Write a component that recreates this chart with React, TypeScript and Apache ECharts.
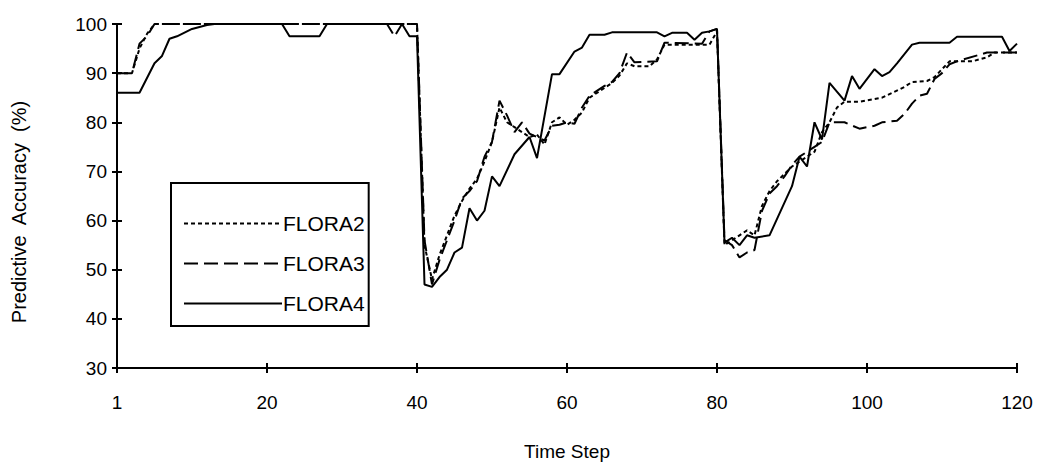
import React, { useEffect, useRef } from "react";
import * as echarts from "echarts";

// Time-step ticks (the first tick is labelled "1")
const xTicks = [0, 20, 40, 60, 80, 100, 120];
const seriesNames = ["FLORA2", "FLORA3", "FLORA4"];

// [time step, predictive accuracy %] at the vertices of each curve
const flora2: [number, number][] = [
  [0, 90], [2, 90], [3, 95], [4, 98], [5, 100], [40, 100], [41, 55], [42, 48], [43, 53],
  [44, 57], [45, 61], [46, 64], [47, 66.5], [48, 68.5], [49, 72], [50, 76], [51, 83],
  [52, 80], [53, 79], [54, 78], [55, 77], [56, 77.5], [57, 75.5], [58, 80], [59, 81],
  [60, 79.5], [61, 80.5], [62, 82], [63, 85], [65, 87], [66, 88], [67, 89.5], [68, 92],
  [69, 91.4], [71, 91.4], [72, 92.8], [73, 95.8], [79, 95.8], [80, 98.5], [81, 55],
  [82, 56], [83, 57], [84, 58], [85, 57], [86, 63], [87, 66], [88, 68], [90, 71],
  [92, 73], [93, 74], [94, 78], [95, 80], [96, 83], [97, 84.2], [99, 84.2], [102, 85],
  [105, 87.2], [106, 88.2], [108, 88.4], [109, 89.2], [111, 92.4], [114, 92.4],
  [116, 93.2], [117, 94.2], [120, 94.2],
];

const flora3: [number, number][] = [
  [0, 90], [2, 90], [3, 96], [4, 97.5], [5, 100], [36, 100], [37, 97.5], [38, 100],
  [40, 100], [41, 56], [42, 47], [43, 52], [44, 56], [45, 60], [46, 64.5], [47, 66],
  [48, 68], [49, 73], [50, 76], [51, 84.4], [52, 81.4], [53, 78], [54, 80], [55, 77.7],
  [57, 76.3], [58, 79.3], [59, 79.5], [60, 80], [61, 79.7], [62, 83], [63, 85.4],
  [65, 87.4], [66, 88.2], [67, 90], [68, 94.2], [69, 92.2], [72, 92.4], [73, 96.2],
  [78, 96], [79, 98.5], [80, 99], [81, 56], [82, 55], [83, 52.5], [84, 53.5], [85, 54],
  [86, 62], [87, 65.5], [88, 67], [89, 69], [90, 71.3], [91, 73], [92, 74], [93, 75],
  [94, 76], [95, 80], [97, 80], [99, 78.7], [101, 79.3], [102, 80], [104, 80.3],
  [105, 81.7], [106, 83.8], [107, 85.4], [108, 85.8], [109, 88.8], [110, 90],
  [111, 91.8], [112, 92.4], [116, 94.2], [120, 94.2],
];

const flora4: [number, number][] = [
  [0, 86], [3, 86], [5, 92], [6, 93.5], [7, 97], [8, 97.5], [10, 99], [12, 99.8],
  [13, 100], [22, 100], [23, 97.5], [27, 97.5], [28, 100], [38, 100], [39, 97.5],
  [40, 97.5], [41, 47], [42, 46.5], [43, 48.5], [44, 50], [45, 53.5], [46, 54.5],
  [47, 62.5], [48, 60], [49, 62], [50, 69], [51, 67], [53, 73.5], [55, 77], [56, 72.7],
  [58, 89.8], [59, 89.8], [61, 94.4], [62, 95.2], [63, 97.8], [65, 97.8], [66, 98.3],
  [72, 98.3], [73, 97.5], [74, 98.2], [76, 98.2], [77, 96.8], [78, 98.2], [79, 98.5],
  [80, 99], [81, 55.5], [82, 56.5], [83, 55], [84, 57], [85, 56.5], [87, 57], [90, 67],
  [91, 73], [92, 71], [93, 80], [94, 76.5], [95, 88], [97, 84.4], [98, 89.4],
  [99, 86.8], [101, 90.8], [102, 89.4], [103, 90.2], [104, 92], [106, 95.8],
  [107, 96.2], [111, 96.2], [112, 97.4], [118, 97.4], [119, 94.5], [120, 96],
];

const FONT = "'Liberation Sans', Arial, sans-serif";

export default function App() {
  const ref = useRef<HTMLDivElement>(null);

  useEffect(() => {
    if (!ref.current) return;
    const chart = echarts.init(ref.current, undefined, { renderer: "svg" });

    const axisText = { color: "#000", fontFamily: FONT, fontSize: 19 };
    const tickStyle = { color: "#000", width: 2 };
    const xBase = {
      type: "value" as const,
      min: 0,
      max: 120,
      interval: 20,
      splitLine: { show: false },
      position: "bottom" as const,
    };
    const yBase = {
      type: "value" as const,
      min: 30,
      max: 100,
      interval: 10,
      splitLine: { show: false },
      position: "left" as const,
    };

    chart.setOption({
      animation: false,
      backgroundColor: "#fff",
      grid: { left: 117, right: 25, top: 24, bottom: 93 },
      xAxis: [
        {
          ...xBase,
          name: "Time Step",
          nameLocation: "middle",
          nameGap: 74,
          nameTextStyle: { ...axisText },
          axisLine: { lineStyle: tickStyle },
          axisTick: { length: 5, lineStyle: tickStyle },
          axisLabel: {
            ...axisText,
            margin: 25,
            formatter: (v: number) => (v === xTicks[0] ? "1" : String(v)),
          },
        },
        {
          ...xBase,
          axisLine: { show: false },
          axisLabel: { show: false },
          axisTick: { inside: true, length: 5, lineStyle: tickStyle },
        },
      ],
      yAxis: [
        {
          ...yBase,
          axisLine: { show: true, lineStyle: tickStyle },
          axisTick: { show: true, length: 5, lineStyle: tickStyle },
          axisLabel: { ...axisText, margin: 10 },
        },
        {
          ...yBase,
          axisLine: { show: false },
          axisLabel: { show: false },
          axisTick: { show: true, inside: true, length: 5, lineStyle: tickStyle },
        },
      ],
      legend: {
        orient: "vertical",
        left: 171,
        top: 183,
        data: seriesNames,
        itemWidth: 98,
        itemHeight: 14,
        itemGap: 19,
        padding: [30, 4, 12, 12],
        borderColor: "#000",
        borderWidth: 2,
        itemStyle: { color: "rgba(0,0,0,0)", borderWidth: 0, opacity: 0 },
        textStyle: { color: "#000", fontFamily: FONT, fontSize: 21, padding: [0, 0, 0, -4] },
      },
      graphic: [
        {
          type: "text",
          x: 19,
          y: 212,
          rotation: Math.PI / 2,
          style: {
            text: "Predictive  Accuracy  (%)",
            fill: "#000",
            font: `20px ${FONT}`,
            align: "center",
            verticalAlign: "middle",
          },
        },
      ],
      series: [
        { name: seriesNames[0], data: flora2, dash: [4, 3] },
        { name: seriesNames[1], data: flora3, dash: [14, 6] },
        { name: seriesNames[2], data: flora4, dash: "solid" },
      ].map((s) => ({
        name: s.name,
        type: "line",
        data: s.data,
        symbol: "none",
        showSymbol: false,
        itemStyle: { color: "#000" },
        lineStyle: { color: "#000", width: 2, type: s.dash },
      })),
    });

    return () => chart.dispose();
  }, []);

  return (
    <div
      ref={ref}
      style={{ position: "fixed", left: 0, top: 0, width: 1042, height: 466, background: "#fff" }}
    />
  );
}
